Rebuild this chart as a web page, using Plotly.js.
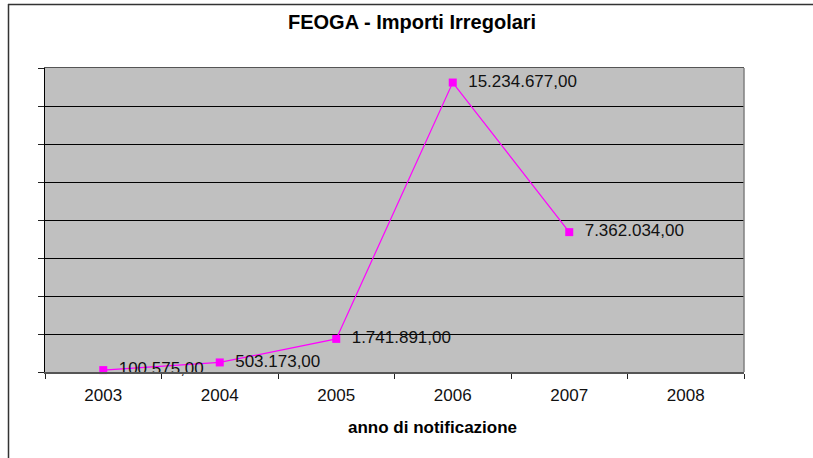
<!DOCTYPE html>
<html>
<head>
<meta charset="utf-8">
<script src="https://cdn.plot.ly/plotly-3.0.1.min.js"></script>
<style>html,body{margin:0;padding:0;background:#fff;}#chart{width:813px;height:458px;}</style>
</head>
<body>
<div id="chart"></div>
<script>
const years = ['2003', '2004', '2005', '2006', '2007', '2008'];
const amounts = [100575, 503173, 1741891, 15234677, 7362034, null];
const chartTitle = 'FEOGA - Importi Irregolari';
const xTitle = 'anno di notificazione';

function fmtIt(v) {
  if (v === null) return '';
  const parts = v.toFixed(2).split('.');
  const intPart = parts[0].replace(/\B(?=(\d{3})+(?!\d))/g, '.');
  return '\u00a0\u00a0' + intPart + ',' + parts[1];
}
const labels = amounts.map(fmtIt);

const FONT = 'Liberation Sans, Arial, sans-serif';
const L = 45, R = 744, T = 68, B = 372, W = 813, H = 458;
const px = x => (x - L) / (R - L);
const py = y => (B - y) / (B - T);

const trace = {
  type: 'scatter',
  mode: 'lines+markers+text',
  x: years,
  y: amounts,
  text: labels,
  textposition: 'middle right',
  textfont: {family: FONT, size: 17, color: '#111'},
  line: {color: '#ff00ff', width: 1.2},
  marker: {symbol: 'square', size: 8, color: '#ff00ff'},
  cliponaxis: false,
  hoverinfo: 'none'
};

const layout = {
  width: W, height: H,
  margin: {l: L, r: W - R, t: T, b: H - B, pad: 0},
  paper_bgcolor: '#ffffff',
  plot_bgcolor: '#c0c0c0',
  showlegend: false,
  font: {family: FONT, color: '#111'},
  xaxis: {
    type: 'category',
    range: [-0.5, 5.5],
    showgrid: false,
    zeroline: false,
    showline: true,
    linecolor: '#555',
    linewidth: 1.5,
    mirror: true,
    ticks: 'outside',
    tickson: 'boundaries',
    ticklen: 5,
    tickcolor: '#222',
    ticklabelstandoff: 7,
    tickfont: {family: FONT, size: 17, color: '#111'},
    fixedrange: true
  },
  yaxis: {
    range: [0, 16000000],
    dtick: 2000000,
    tick0: 0,
    showticklabels: false,
    showgrid: true,
    gridcolor: '#000000',
    gridwidth: 1,
    zeroline: false,
    showline: true,
    linecolor: '#000',
    linewidth: 1,
    ticks: 'outside',
    ticklen: 6,
    tickcolor: '#222',
    fixedrange: true
  },
  annotations: [
    {text: '<b>' + chartTitle + '</b>', xref: 'paper', yref: 'paper', x: px(412), y: py(22),
     xanchor: 'center', yanchor: 'middle', showarrow: false,
     font: {family: FONT, size: 20, color: '#000'}},
    {text: '<b>' + xTitle + '</b>', xref: 'paper', yref: 'paper', x: px(432), y: py(427),
     xanchor: 'center', yanchor: 'middle', showarrow: false,
     font: {family: FONT, size: 17, color: '#000'}}
  ],
  shapes: [
    {type: 'line', xref: 'paper', yref: 'paper', x0: px(8), x1: px(813), y0: py(4.5), y1: py(4.5),
     line: {color: '#333', width: 1.5}},
    {type: 'line', xref: 'paper', yref: 'paper', x0: px(8.5), x1: px(8.5), y0: py(4), y1: py(458),
     line: {color: '#333', width: 1.5}},
    {type: 'line', xref: 'paper', yref: 'paper', x0: 1, x1: 1, y0: 0, y1: 1,
     line: {color: '#808080', width: 1.5}}
  ]
};

Plotly.newPlot('chart', [trace], layout, {displayModeBar: false, staticPlot: true});
</script>
</body>
</html>
